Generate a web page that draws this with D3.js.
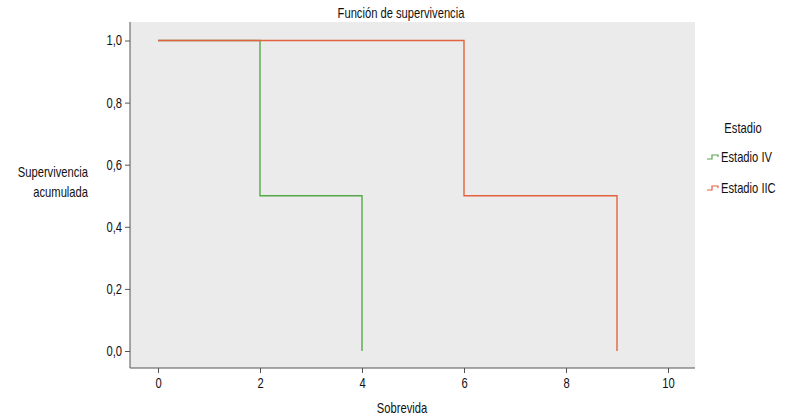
<!DOCTYPE html>
<html><head><meta charset="utf-8">
<script src="https://cdn.jsdelivr.net/npm/d3@7"></script>
<style>body{margin:0;background:#fff}</style>
</head><body><svg id="c" width="791" height="418"></svg>
<script>
const seriesNames = ["Estadio IV", "Estadio IIC"];
const timesIV = [0, 2, 4];
const survIV = [1.0, 0.5, 0.0];
const timesIIC = [0, 6, 9];
const survIIC = [1.0, 0.5, 0.0];
const xTicks = [0, 2, 4, 6, 8, 10];
const yTicks = [0, 0.2, 0.4, 0.6, 0.8, 1.0];
const colors = ["#57a84b", "#e4623f"];

const FONT = '"Liberation Sans", Arial, sans-serif';
const SX = 0.8;
const svg = d3.select("#c");
const L = 130, R = 695, T = 22, B = 368;
const x = d3.scaleLinear().domain([0, 10]).range([158, 668]);
const y = d3.scaleLinear().domain([0, 1]).range([351, 40.5]);

svg.append("rect").attr("x", L).attr("y", T).attr("width", R - L).attr("height", B - T).attr("fill", "#ebebeb");

function stepPts(ts, ss) {
  const pts = [];
  for (let i = 0; i < ts.length; i++) {
    if (i > 0) pts.push([ts[i], ss[i - 1]]);
    pts.push([ts[i], ss[i]]);
  }
  return pts;
}
const line = d3.line().x(d => x(d[0])).y(d => y(d[1]));
[[timesIV, survIV], [timesIIC, survIIC]].forEach((s, i) => {
  svg.append("path").attr("d", line(stepPts(s[0], s[1]))).attr("fill", "none")
    .attr("stroke", colors[i]).attr("stroke-width", 1.4);
});

const xAxis = svg.append("g").attr("transform", `translate(0,${B})`)
  .call(d3.axisBottom(x).tickValues(xTicks).tickSize(5).tickPadding(5).tickFormat(d3.format("d")));
xAxis.select(".domain").attr("d", `M${L},0H${R}`);
const yAxis = svg.append("g").attr("transform", `translate(${L},0)`)
  .call(d3.axisLeft(y).tickValues(yTicks).tickSize(5).tickPadding(3).tickFormat(d => d.toFixed(1).replace(".", ",")));
yAxis.select(".domain").attr("d", `M0,${T}V${B}`);
svg.selectAll(".tick text").attr("font-family", FONT).attr("font-size", 14).attr("fill", "#111")
  .attr("transform", `scale(${SX},1)`);
yAxis.selectAll(".tick text").attr("x", -8 / SX);
svg.selectAll(".domain, .tick line").attr("stroke", "#555");

function txt(px, py, s, anchor) {
  svg.append("g").attr("transform", `translate(${px},${py}) scale(${SX},1)`)
    .append("text").attr("text-anchor", anchor || "start").attr("font-family", FONT)
    .attr("font-size", 14).attr("fill", "#111").text(s);
}
txt(401, 18, "Función de supervivencia", "middle");
txt(402, 413, "Sobrevida", "middle");
txt(88, 177, "Supervivencia", "end");
txt(88, 197, "acumulada", "end");
txt(743, 133, "Estadio", "middle");
seriesNames.forEach((n, i) => {
  const yy = 157 + i * 31;
  svg.append("path").attr("d", `M707,${yy + 2}H712V${yy - 2}H718V${yy}`).attr("fill", "none").attr("stroke", colors[i]).attr("stroke-width", 1.2);
  txt(721, yy + 5, n);
});
</script></body></html>
